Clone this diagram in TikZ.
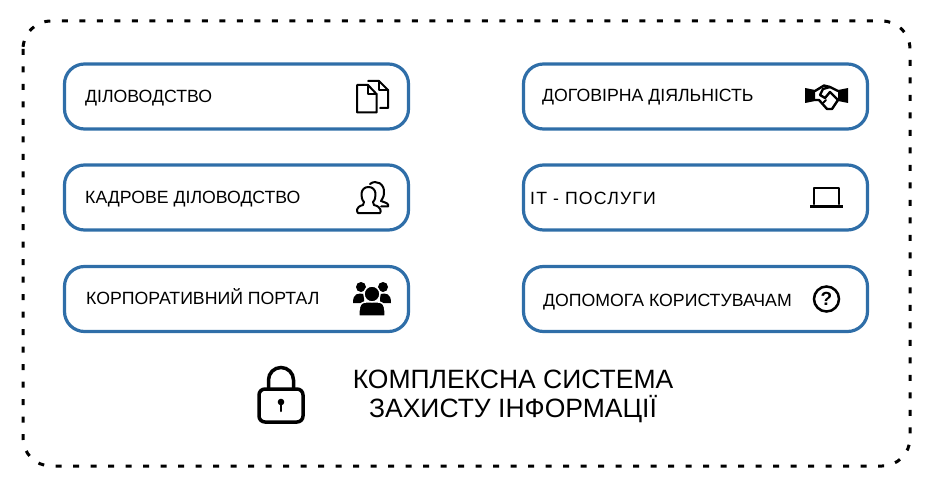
\documentclass[tikz,border=0pt]{standalone}
\usepackage{fontspec}
\setmainfont{Liberation Sans}
\usepackage{xcolor}
\usetikzlibrary{positioning}
\definecolor{boxblue}{HTML}{2F6EA8}
\begin{document}
\begin{tikzpicture}[x=1pt,y=-1pt,
  itembox/.style={draw=boxblue,line width=3.2pt,rounded corners=20pt,minimum width=344pt,minimum height=65pt,inner sep=0pt},
  itemlabel/.style={anchor=base west,inner sep=0pt,font=\fontsize{17.7}{20}\selectfont},
  titlelabel/.style={align=center,inner sep=0pt,font=\fontsize{26.5}{28.5}\selectfont},
  thinicon/.style={line width=2pt,line join=round,line cap=round},
  fillicon/.style={fill=black,draw=none}]
\useasboundingbox (0,0) rectangle (935,492);
% Frame
\draw[line width=3pt,dash pattern=on 6pt off 11.5pt,rounded corners=28pt] (23,21) rectangle (910,466);
% Left boxes
\node[itembox] (docs) at (236.5,96.5) {};
\node[itembox] (staff) at (236.5,197.5) {};
\node[itembox] (portal) at (236.5,299) {};
% Right boxes
\node[itembox] (contracts) at (695.5,96.5) {};
\node[itembox] (itserv) at (695.5,197.5) {};
\node[itembox] (support) at (695.5,299) {};
% Labels
\node[itemlabel] (docstext) at (85,102.5) {ДІЛОВОДСТВО};
\node[itemlabel] (stafftext) at (85,203.5) {КАДРОВЕ ДІЛОВОДСТВО};
\node[itemlabel] (portaltext) at (86,304.5) {КОРПОРАТИВНИЙ ПОРТАЛ};
\node[itemlabel] (contractstext) at (542,101.5) {ДОГОВІРНА ДІЯЛЬНІСТЬ};
\node[itemlabel] (itservtext) at (530,204.5) {\addfontfeature{LetterSpace=6.5}ІТ - ПОСЛУГИ};
\node[itemlabel] (supporttext) at (543,306.5) {ДОПОМОГА КОРИСТУВАЧАМ};
\node[titlelabel] (title) at (513,396.5) {КОМПЛЕКСНА СИСТЕМА\\ЗАХИСТУ ІНФОРМАЦІЇ};
% Documents icon
\draw[thinicon] (368,85) -- (357,85) -- (357,112.5) -- (376.5,112.5) -- (376.5,94) -- cycle;
\draw[thinicon] (368,85) -- (368,94) -- (376.5,94);
\draw[thinicon] (368,81) -- (379,81) -- (388,90) -- (388,108) -- (380,108);
\draw[thinicon] (379,81) -- (379,90) -- (388,90);
% Handshake icon
\fill[fillicon] (805,88) -- (815,90) -- (815,101) -- (805,103) -- cycle;
\fill[fillicon] (848,88) -- (838,90) -- (838,101) -- (848,103) -- cycle;
\draw[thinicon,line width=2.4pt] (815,91) -- (824,85.5) -- (830,87) -- (838,91);
\draw[thinicon,line width=2.4pt] (815,100) -- (819,100) -- (827,109) -- (832,109) -- (838,100);
\draw[thinicon,line width=2.4pt] (830,87) -- (823,89) -- (820,95) -- (825,98) -- (830,92) -- (838,100);
\draw[thinicon] (823,103) -- (826,100);
% Staff icon
\draw[thinicon] (363,205) .. controls (355,207) and (357,212) .. (358,213) -- (380,213) .. controls (381,212) and (382,207) .. (374,205) -- (373,202) .. controls (377,198) and (377,187) .. (368.5,187) .. controls (360,187) and (360,198) .. (364,202) -- cycle;
\draw[thinicon] (370,184) .. controls (376,179) and (385,184) .. (384,193) .. controls (384,197) and (382,199) .. (381,201) .. controls (386,203) and (389,203) .. (388,206.5) -- (381,206.5);
% Group icon
\fill[fillicon] (361,287) circle (5pt);
\fill[fillicon] (383,287) circle (5pt);
\fill[fillicon] (353,303) .. controls (353,293) and (358,293) .. (364,294) -- (364,303) -- cycle;
\fill[fillicon] (391,303) .. controls (391,293) and (386,293) .. (380,294) -- (380,303) -- cycle;
\draw[fill=black,draw=white,line width=1.5pt] (372,294) circle (8pt);
\draw[fill=black,draw=white,line width=1.5pt] (359,316) .. controls (358,300) and (364,302) .. (372,302) .. controls (380,302) and (386,300) .. (385,316) -- cycle;
% Laptop icon
\draw[thinicon,line width=2.6pt] (814,204) -- (814,188) -- (839,188) -- (839,204);
\draw[line width=3pt] (810,207) -- (843,207);
% Help icon
\draw[line width=2.5pt] (826.5,299) circle (12.5pt);
\node[inner sep=0pt,font=\bfseries\fontsize{19}{20}\selectfont] (helpmark) at (826.5,299) {?};
% Lock icon
\draw[line width=3.5pt,rounded corners=6pt] (259,389) rectangle (303,422);
\draw[line width=3.5pt] (268.5,389) -- (268.5,380) arc[start angle=180,end angle=0,radius=12.5pt] -- (293.5,389);
\fill[fillicon] (281,402) circle (3.3pt);
\draw[line width=2.5pt,line cap=round] (281,402) -- (281,411);
\end{tikzpicture}
\end{document}
